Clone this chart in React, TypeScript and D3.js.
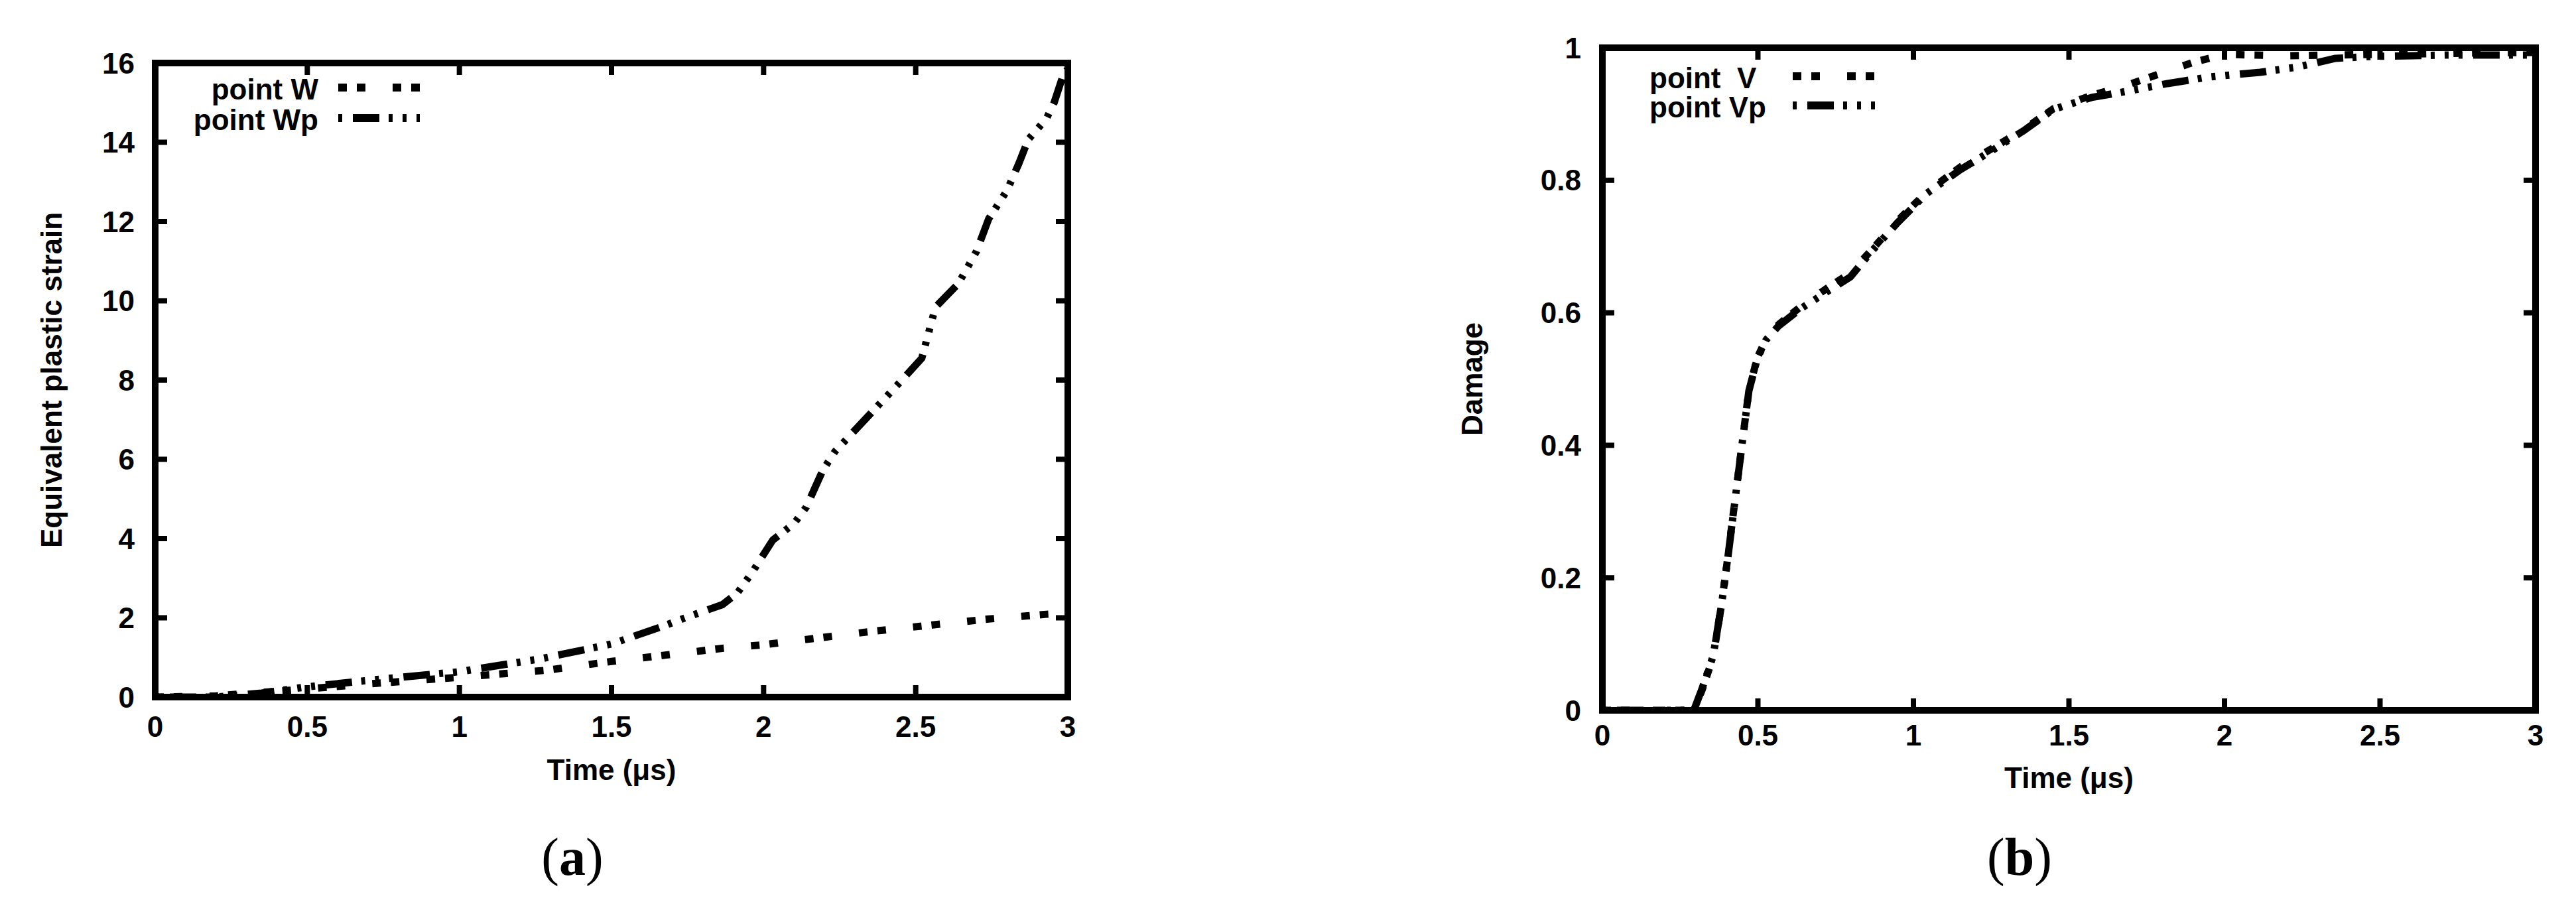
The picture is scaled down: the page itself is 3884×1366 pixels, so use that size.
import React from "react";
import * as d3 from "d3";

// ---------- data ----------
const xTicks = [0, 0.5, 1, 1.5, 2, 2.5, 3];
const yTicksA = [0, 2, 4, 6, 8, 10, 12, 14, 16];
const yTicksB = [0, 0.2, 0.4, 0.6, 0.8, 1];

// (a) Equivalent plastic strain
const wTime = [0, 0.2, 0.44, 0.68, 1.0, 1.29, 1.5, 1.69, 1.864, 2.0, 2.21, 2.37, 2.555, 2.74, 2.93, 3.0];
const wStrain = [0, 0.03, 0.17, 0.32, 0.5, 0.68, 0.9, 1.07, 1.23, 1.32, 1.52, 1.67, 1.82, 1.97, 2.09, 2.12];

const wpTime = [0, 0.2, 0.35, 0.49, 0.75, 1.0, 1.27, 1.5, 1.67, 1.76, 1.864, 1.913, 1.962, 2.03, 2.1, 2.14, 2.195, 2.235, 2.35, 2.45, 2.52, 2.565, 2.64, 2.7, 2.74, 2.8, 2.84, 2.87, 2.93, 2.955, 2.985, 3.0];
const wpStrain = [0, 0, 0.1, 0.25, 0.46, 0.64, 0.97, 1.34, 1.79, 2.05, 2.33, 2.62, 3.14, 3.96, 4.38, 4.79, 5.73, 6.2, 7.14, 7.96, 8.55, 9.84, 10.43, 11.25, 12.07, 12.78, 13.48, 14.07, 14.6, 15.0, 15.7, 15.85];

// (b) Damage
const vTime = [0, 0.294, 0.32, 0.356, 0.383, 0.403, 0.431, 0.45, 0.471, 0.498, 0.526, 0.566, 0.634, 0.716, 0.797, 0.866, 0.947, 1.042, 1.151, 1.26, 1.355, 1.45, 1.573, 1.695, 1.8, 1.9, 2.0, 2.2, 2.5, 2.8, 3.0];
const vDamage = [0, 0, 0.03, 0.08, 0.16, 0.23, 0.335, 0.405, 0.483, 0.532, 0.56, 0.582, 0.608, 0.635, 0.66, 0.695, 0.738, 0.782, 0.82, 0.85, 0.877, 0.908, 0.928, 0.945, 0.962, 0.978, 0.99, 0.988, 0.99, 0.992, 0.993];

const vpTime = [0, 0.294, 0.32, 0.356, 0.383, 0.403, 0.431, 0.45, 0.471, 0.498, 0.526, 0.566, 0.634, 0.716, 0.797, 0.866, 0.947, 1.042, 1.151, 1.26, 1.355, 1.45, 1.573, 1.695, 1.817, 1.953, 2.115, 2.236, 2.357, 2.479, 2.72, 3.0];
const vpDamage = [0, 0, 0.032, 0.082, 0.159, 0.229, 0.334, 0.405, 0.482, 0.531, 0.559, 0.58, 0.605, 0.63, 0.654, 0.693, 0.735, 0.78, 0.816, 0.847, 0.875, 0.907, 0.925, 0.935, 0.946, 0.956, 0.963, 0.971, 0.984, 0.987, 0.989, 0.989];

const FONT = "'Liberation Sans', Arial, Helvetica, sans-serif";
const SERIF = "'Liberation Serif', 'Times New Roman', serif";
const DASH_SQ = "13 15 13 41";
const DASH_DDD = "40 14 6 15 6 15 6 16";
const DASH_DDD_OFF = 96;

type Series = { xs: number[]; ys: number[]; dash: string; offset: number; label: string };

type PanelProps = {
  left: number; right: number; top: number; bottom: number;
  yMax: number; yTicks: number[];
  yLabel: string; yLabelX: number; yTickRight: number;
  xLabelY: number; xTitleY: number;
  series: Series[];
  legendAnchor: "end" | "start"; legendTextX: number; legendLineX1: number; legendLineX2: number;
  legendRows: number[];
  caption: string; captionX: number; captionY: number;
};

function Panel(p: PanelProps) {
  const x = d3.scaleLinear().domain([0, 3]).range([p.left, p.right]);
  const y = d3.scaleLinear().domain([0, p.yMax]).range([p.bottom, p.top]);
  const line = d3.line<[number, number]>().x(d => x(d[0])).y(d => y(d[1]));
  const tl = 18;
  const fmt = (v: number) => String(v);
  return (
    <g>
      <defs>
        <clipPath id={"clip" + p.caption}>
          <rect x={p.left} y={p.top - 6} width={p.right - p.left} height={p.bottom - p.top + 6} />
        </clipPath>
      </defs>
      {/* curves */}
      <g clipPath={`url(#clip${p.caption})`}>
        {p.series.map((s, i) => (
          <path key={i} d={line(s.xs.map((v, j) => [v, s.ys[j]]) as [number, number][]) || ""}
            fill="none" stroke="#000" strokeWidth={11} strokeDasharray={s.dash} strokeDashoffset={s.offset}
            strokeLinejoin="round" />
        ))}
      </g>
      {/* ticks */}
      {xTicks.map(t => (
        <g key={"xt" + t}>
          <line x1={x(t)} x2={x(t)} y1={p.bottom} y2={p.bottom - tl} stroke="#000" strokeWidth={8} />
          <line x1={x(t)} x2={x(t)} y1={p.top} y2={p.top + tl} stroke="#000" strokeWidth={8} />
          <text x={x(t)} y={p.xLabelY} textAnchor="middle" dominantBaseline="central"
            fontFamily={FONT} fontWeight="bold" fontSize={44}>{fmt(t)}</text>
        </g>
      ))}
      {p.yTicks.map(t => (
        <g key={"yt" + t}>
          <line x1={p.left} x2={p.left + tl} y1={y(t)} y2={y(t)} stroke="#000" strokeWidth={8} />
          <line x1={p.right} x2={p.right - tl} y1={y(t)} y2={y(t)} stroke="#000" strokeWidth={8} />
          <text x={p.yTickRight} y={y(t)} textAnchor="end" dominantBaseline="central"
            fontFamily={FONT} fontWeight="bold" fontSize={44}>{fmt(t)}</text>
        </g>
      ))}
      {/* frame */}
      <rect x={p.left} y={p.top} width={p.right - p.left} height={p.bottom - p.top}
        fill="none" stroke="#000" strokeWidth={10} />
      {/* legend */}
      {p.series.map((s, i) => (
        <g key={"lg" + i}>
          <text x={p.legendTextX} y={p.legendRows[i]} textAnchor={p.legendAnchor} dominantBaseline="central"
            fontFamily={FONT} fontWeight="bold" fontSize={44} style={{ whiteSpace: "pre" }}>{s.label}</text>
          <line x1={p.legendLineX1} x2={p.legendLineX2} y1={p.legendRows[i] - 2} y2={p.legendRows[i] - 2}
            stroke="#000" strokeWidth={12} strokeDasharray={s.dash} strokeDashoffset={s.offset} />
        </g>
      ))}
      {/* axis titles */}
      <text x={(p.left + p.right) / 2} y={p.xTitleY} textAnchor="middle" dominantBaseline="central"
        fontFamily={FONT} fontWeight="bold" fontSize={44}>Time (μs)</text>
      <text transform={`translate(${p.yLabelX},${(p.top + p.bottom) / 2}) rotate(-90)`} textAnchor="middle"
        dominantBaseline="central" fontFamily={FONT} fontWeight="bold" fontSize={44}>{p.yLabel}</text>
      {/* caption */}
      <text x={p.captionX} y={p.captionY} textAnchor="middle" dominantBaseline="central"
        fontFamily={SERIF} fontSize={80}>
        (<tspan fontWeight="bold">{p.caption}</tspan>)
      </text>
    </g>
  );
}

export default function App() {
  const seriesA: Series[] = [
    { xs: wTime, ys: wStrain, dash: DASH_SQ, offset: 0, label: "point W" },
    { xs: wpTime, ys: wpStrain, dash: DASH_DDD, offset: DASH_DDD_OFF, label: "point Wp" },
  ];
  const seriesB: Series[] = [
    { xs: vTime, ys: vDamage, dash: DASH_SQ, offset: 0, label: "point  V" },
    { xs: vpTime, ys: vpDamage, dash: DASH_DDD, offset: DASH_DDD_OFF, label: "point Vp" },
  ];
  return (
    <svg width={3884} height={1366} style={{ position: "absolute", left: 0, top: 0, background: "#fff" }}>
      <rect x={0} y={0} width={3884} height={1366} fill="#fff" />
      <Panel left={234} right={1610} top={95} bottom={1051} yMax={16} yTicks={yTicksA}
        yLabel="Equivalent plastic strain" yLabelX={77} yTickRight={203}
        xLabelY={1095} xTitleY={1160} series={seriesA}
        legendAnchor="end" legendTextX={480} legendLineX1={510} legendLineX2={633} legendRows={[134, 180]}
        caption="a" captionX={863} captionY={1292} />
      <Panel left={2416} right={3823} top={72} bottom={1071} yMax={1} yTicks={yTicksB}
        yLabel="Damage" yLabelX={2219} yTickRight={2384}
        xLabelY={1108} xTitleY={1172} series={seriesB}
        legendAnchor="start" legendTextX={2487} legendLineX1={2703} legendLineX2={2835} legendRows={[117, 161]}
        caption="b" captionX={3045} captionY={1292} />
    </svg>
  );
}
